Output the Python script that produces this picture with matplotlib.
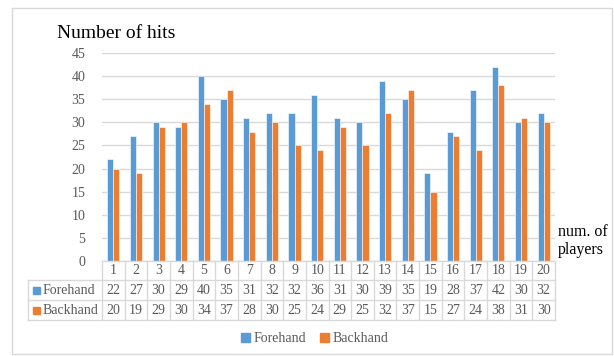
import matplotlib.pyplot as plt
import matplotlib.patches as mpatches
from matplotlib.transforms import blended_transform_factory
import numpy as np

plt.rcParams['font.family'] = ['Liberation Serif', 'DejaVu Serif']

players = list(range(1, 21))
forehand = [22, 27, 30, 29, 40, 35, 31, 32, 32, 36, 31, 30, 39, 35, 19, 28, 37, 42, 30, 32]
backhand = [20, 19, 29, 30, 34, 37, 28, 30, 25, 24, 29, 25, 32, 37, 15, 27, 24, 38, 31, 30]

blue = '#5B9BD5'
orange = '#ED7D31'
gray = '#595959'
grid = '#D9D9D9'

W, H = 614, 356
fig = plt.figure(figsize=(W / 100, H / 100), dpi=100)

def fy(py):
    return 1 - py / H

def fx(px):
    return px / W

# outer chart border
fig.patches.append(mpatches.Rectangle((fx(12), fy(354)), fx(600), (354 - 8) / H,
                                      transform=fig.transFigure, fill=False,
                                      edgecolor='#D9D9D9', linewidth=1))

ax = fig.add_axes([fx(102), fy(261), fx(555 - 102), (261 - 53) / H])
x = np.array(players)
bw = 0.27
ax.bar(x - bw / 2, forehand, bw, color=blue, edgecolor='white', linewidth=0.4)
ax.bar(x + bw / 2, backhand, bw, color=orange, edgecolor='white', linewidth=0.4)
ax.set_xlim(0.5, 20.5)
ax.set_ylim(0, 45)
ax.set_yticks(range(0, 46, 5))
ax.yaxis.grid(True, color=grid, linewidth=1)
ax.set_axisbelow(True)
ax.set_xticks([])
for s in ax.spines.values():
    s.set_visible(False)
ax.tick_params(axis='y', length=0, pad=12, labelsize=10, labelcolor=gray)

fig.text(fx(57), fy(33), 'Number of hits', fontsize=14, color='black', va='center')
fig.text(fx(558), fy(232), 'num. of', fontsize=11.5, color='black', va='center')
fig.text(fx(558), fy(250), 'players', fontsize=11.5, color='black', va='center')

# data table
tr = blended_transform_factory(ax.transData, fig.transFigure)
rows = [261, 280, 300, 320]
lc = '#D9D9D9'
for r in rows:
    x0 = fx(28) if r != 261 else fx(102)
    fig.lines.append(plt.Line2D([x0, fx(555)], [fy(r), fy(r)], transform=fig.transFigure,
                                color=lc, linewidth=1))
for b in np.arange(0.5, 21, 1):
    ax.plot([b, b], [fy(261), fy(320)], transform=tr, color=lc, linewidth=1, clip_on=False)
fig.lines.append(plt.Line2D([fx(28), fx(28)], [fy(280), fy(320)], transform=fig.transFigure,
                            color=lc, linewidth=1))

mids = [270.5, 290, 310]
for i, p in enumerate(players):
    ax.text(p, fy(mids[0]), str(p), transform=tr, ha='center', va='center', fontsize=10, color=gray)
    ax.text(p, fy(mids[1]), str(forehand[i]), transform=tr, ha='center', va='center', fontsize=10, color=gray)
    ax.text(p, fy(mids[2]), str(backhand[i]), transform=tr, ha='center', va='center', fontsize=10, color=gray)

for name, col, m in [('Forehand', blue, mids[1]), ('Backhand', orange, mids[2])]:
    fig.patches.append(mpatches.Rectangle((fx(33), fy(m + 3.5)), fx(7), 7 / H,
                                          transform=fig.transFigure, color=col))
    fig.text(fx(43), fy(m), name, fontsize=10, color=gray, va='center')

handles = [mpatches.Patch(color=blue, label='Forehand'),
           mpatches.Patch(color=orange, label='Backhand')]
fig.legend(handles=handles, loc='center', bbox_to_anchor=(fx(315), fy(339)), ncol=2,
           frameon=False, fontsize=10, labelcolor=gray, handlelength=0.6, handleheight=0.6,
           handletextpad=0.3, columnspacing=1.0)

fig.savefig('out.png', dpi=100)
